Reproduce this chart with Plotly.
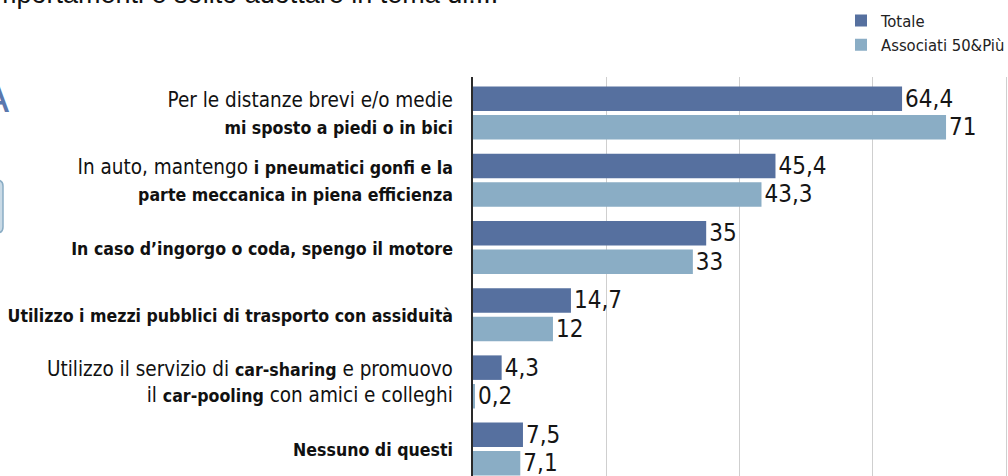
import plotly.graph_objects as go

# ---- data ----
categories = [
    "Per le distanze brevi e/o medie<br><b>mi sposto a piedi o in bici</b>",
    "In auto, mantengo <b>i pneumatici gonfi e la</b><br><b>parte meccanica in piena efficienza</b>",
    "<b>In caso d’ingorgo o coda, spengo il motore</b>",
    "<b>Utilizzo i mezzi pubblici di trasporto con assiduità</b>",
    "Utilizzo il servizio di <b>car-sharing</b> e promuovo<br>il <b>car-pooling</b> con amici e colleghi",
    "<b>Nessuno di questi</b>",
]
series_names = ["Totale", "Associati 50&Più"]
totale = [64.4, 45.4, 35, 14.7, 4.3, 7.5]
associati = [71, 43.3, 33, 12, 0.2, 7.1]
x_ticks = [0, 20, 40, 60, 80]

title_text = "Quali comportamenti è solito adottare in tema di:..."

NARROW = "Liberation Sans Narrow, DejaVu Sans Condensed, Arial Narrow, sans-serif"
BOLD_SIZE = 17.6


def fmt(v):
    return f"{v:g}".replace(".", ",")


def style_label(s):
    return (s.replace("<b>", f"<b><span style='font-size:{BOLD_SIZE}px'>")
             .replace("</b>", "</span></b>"))


fig = go.Figure()
for name, vals, col in [(series_names[0], totale, "#56709f"),
                        (series_names[1], associati, "#8aadc5")]:
    fig.add_trace(go.Bar(
        name=name, y=categories, x=vals, orientation="h",
        marker=dict(color=col, line=dict(width=0)),
        text=[fmt(v) for v in vals], textposition="outside",
        constraintext="none", cliponaxis=False,
        textfont=dict(family=NARROW, size=24, color="#151515"),
        hoverinfo="skip",
    ))

fig.update_layout(
    width=1008, height=476,
    margin=dict(l=473, r=0, t=77, b=0, autoexpand=False),
    paper_bgcolor="white", plot_bgcolor="white",
    barmode="group", bargap=0.152, bargroupgap=0.14,
    font=dict(family=NARROW, color="#111111"),
    showlegend=True,
    legend=dict(
        x=(841 - 473) / 535, y=1.185, xanchor="left", yanchor="top",
        font=dict(family=NARROW, size=16.5, color="#222222"),
        bgcolor="rgba(0,0,0,0)", tracegroupgap=0, traceorder="normal",
    ),
    xaxis=dict(
        range=[0, 80.3], tickvals=x_ticks, showticklabels=False,
        showgrid=True, gridcolor="#cfcfcf", gridwidth=1,
        zeroline=False, showline=False, fixedrange=True, automargin=False,
    ),
    yaxis=dict(
        range=[5.40, -0.536], showline=True, linecolor="#2a2a2a", linewidth=2,
        ticks="", ticklabelstandoff=14, showgrid=False,
        tickvals=categories, ticktext=[style_label(c) for c in categories],
        tickfont=dict(family=NARROW, size=20.5, color="#111111"),
        fixedrange=True, automargin=False,
    ),
)

# title, cut off at the top of the page
fig.add_annotation(
    text=title_text, xref="paper", yref="paper",
    x=(500 - 473) / 535, y=1 + (77 - 11) / 399,
    xanchor="right", yanchor="bottom", showarrow=False,
    font=dict(family="Liberation Sans, Arial, sans-serif", size=27, color="#111111"),
)


def px_x(p):
    return (p - 473) / 535


def px_y(q):
    return 1 - (q - 77) / 399


# partial decorative glyph at the left edge
fig.add_annotation(
    text="À", xref="paper", yref="paper",
    x=px_x(12), y=px_y(97),
    xanchor="right", yanchor="middle", showarrow=False,
    font=dict(family="DejaVu Sans, sans-serif", size=40, color="#5a78ae"),
)

# partial rounded box at the left edge
r_x, r_y = 6 / 535, 6 / 399
x0, x1 = px_x(-60), px_x(3)
y0, y1 = px_y(233), px_y(180)
path = (f"M{x0},{y0} L{x1 - r_x},{y0} Q{x1},{y0} {x1},{y0 + r_y} "
        f"L{x1},{y1 - r_y} Q{x1},{y1} {x1 - r_x},{y1} L{x0},{y1} Z")
fig.add_shape(type="path", path=path, xref="paper", yref="paper",
              fillcolor="#c9dae6", line=dict(color="#8aadc5", width=1.5))

fig.write_html("out.html")
